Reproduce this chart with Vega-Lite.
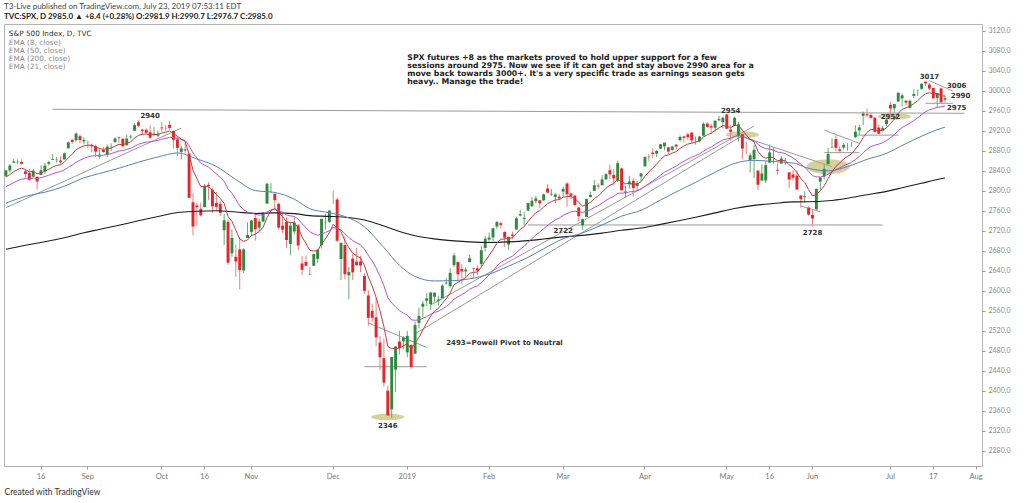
{
"$schema":"https://vega.github.io/schema/vega-lite/v6.json",
"autosize":"none",
"width":978,"height":442,
"padding":{"left":4,"top":24,"right":42,"bottom":37},
"background":"white",
"config":{"view":{"stroke":"#b4b4b4"},"font":"Lato"},
"title":{"text":"T3-Live published on TradingView.com, July 23, 2019 07:53:11 EDT","subtitle":"TVC:SPX, D  2985.0 ▲ +8.4 (+0.28%)  O:2981.9  H:2990.7  L:2976.7  C:2985.0","anchor":"start","frame":"group","offset":3,"font":"Lato","fontSize":8,"fontWeight":"normal","color":"#444","subtitleFont":"Lato","subtitleFontSize":8,"subtitleColor":"#222","subtitleFontWeight":"bold","subtitlePadding":2},
"datasets":{
"px":[
{"d":"2018-08-03","o":2829.6,"h":2840.4,"l":2827.4,"c":2840.4,"e8":2827.0,"e21":2808.0},
{"d":"2018-08-06","o":2840.3,"h":2853.3,"l":2836.0,"c":2850.4,"e8":2832.2,"e21":2811.9},
{"d":"2018-08-07","o":2855.9,"h":2863.4,"l":2855.9,"c":2858.5,"e8":2838.0,"e21":2816.1},
{"d":"2018-08-08","o":2856.8,"h":2862.4,"l":2853.1,"c":2857.7,"e8":2842.4,"e21":2819.9},
{"d":"2018-08-09","o":2857.2,"h":2862.5,"l":2852.0,"c":2853.6,"e8":2844.9,"e21":2823.0},
{"d":"2018-08-10","o":2838.9,"h":2842.2,"l":2825.8,"c":2833.3,"e8":2842.3,"e21":2823.9},
{"d":"2018-08-13","o":2835.5,"h":2843.4,"l":2819.9,"c":2821.9,"e8":2837.8,"e21":2823.7},
{"d":"2018-08-14","o":2827.9,"h":2843.1,"l":2826.6,"c":2840.0,"e8":2838.3,"e21":2825.2},
{"d":"2018-08-15","o":2827.9,"h":2828.0,"l":2802.5,"c":2818.4,"e8":2833.9,"e21":2824.6},
{"d":"2018-08-16","o":2831.4,"h":2850.5,"l":2831.4,"c":2840.7,"e8":2835.4,"e21":2826.1},
{"d":"2018-08-17","o":2838.3,"h":2855.6,"l":2833.7,"c":2850.1,"e8":2838.7,"e21":2828.3},
{"d":"2018-08-20","o":2853.9,"h":2859.8,"l":2850.6,"c":2857.1,"e8":2842.8,"e21":2830.9},
{"d":"2018-08-21","o":2861.5,"h":2873.2,"l":2861.3,"c":2863.0,"e8":2847.3,"e21":2833.8},
{"d":"2018-08-22","o":2861.0,"h":2867.5,"l":2856.1,"c":2861.8,"e8":2850.5,"e21":2836.3},
{"d":"2018-08-23","o":2860.3,"h":2868.8,"l":2854.0,"c":2857.0,"e8":2851.9,"e21":2838.2},
{"d":"2018-08-24","o":2862.4,"h":2876.2,"l":2862.4,"c":2874.7,"e8":2857.0,"e21":2841.5},
{"d":"2018-08-27","o":2884.7,"h":2898.3,"l":2884.7,"c":2896.7,"e8":2865.8,"e21":2846.5},
{"d":"2018-08-28","o":2901.5,"h":2903.8,"l":2893.5,"c":2897.5,"e8":2872.8,"e21":2851.1},
{"d":"2018-08-29","o":2900.6,"h":2916.5,"l":2898.4,"c":2914.0,"e8":2882.0,"e21":2856.8},
{"d":"2018-08-30","o":2908.9,"h":2912.5,"l":2895.2,"c":2901.1,"e8":2886.2,"e21":2860.8},
{"d":"2018-08-31","o":2898.4,"h":2906.3,"l":2892.7,"c":2901.5,"e8":2889.6,"e21":2864.5},
{"d":"2018-09-04","o":2897.0,"h":2900.2,"l":2885.1,"c":2896.7,"e8":2891.2,"e21":2867.4},
{"d":"2018-09-05","o":2891.6,"h":2894.2,"l":2876.9,"c":2888.6,"e8":2890.6,"e21":2869.3},
{"d":"2018-09-06","o":2888.6,"h":2892.1,"l":2867.3,"c":2878.1,"e8":2887.8,"e21":2870.1},
{"d":"2018-09-07","o":2868.3,"h":2883.8,"l":2864.1,"c":2871.7,"e8":2884.2,"e21":2870.2},
{"d":"2018-09-10","o":2881.4,"h":2886.9,"l":2875.9,"c":2877.1,"e8":2882.6,"e21":2870.8},
{"d":"2018-09-11","o":2871.6,"h":2892.5,"l":2866.8,"c":2887.9,"e8":2883.8,"e21":2872.4},
{"d":"2018-09-12","o":2888.3,"h":2894.7,"l":2879.2,"c":2888.9,"e8":2884.9,"e21":2873.9},
{"d":"2018-09-13","o":2896.9,"h":2906.8,"l":2896.4,"c":2904.2,"e8":2889.2,"e21":2876.7},
{"d":"2018-09-14","o":2906.4,"h":2908.3,"l":2895.8,"c":2905.0,"e8":2892.7,"e21":2879.3},
{"d":"2018-09-17","o":2903.8,"h":2904.7,"l":2886.2,"c":2888.8,"e8":2891.8,"e21":2880.2},
{"d":"2018-09-18","o":2890.7,"h":2911.2,"l":2890.4,"c":2904.3,"e8":2894.6,"e21":2882.4},
{"d":"2018-09-19","o":2906.6,"h":2912.4,"l":2903.8,"c":2908.0,"e8":2897.6,"e21":2884.7},
{"d":"2018-09-20","o":2919.7,"h":2934.8,"l":2919.7,"c":2930.8,"e8":2905.0,"e21":2888.9},
{"d":"2018-09-21","o":2936.8,"h":2940.9,"l":2927.1,"c":2929.7,"e8":2910.5,"e21":2892.6},
{"d":"2018-09-24","o":2921.8,"h":2923.8,"l":2912.6,"c":2919.4,"e8":2912.5,"e21":2895.0},
{"d":"2018-09-25","o":2921.8,"h":2924.0,"l":2913.7,"c":2915.6,"e8":2913.2,"e21":2896.9},
{"d":"2018-09-26","o":2917.0,"h":2931.2,"l":2903.3,"c":2906.0,"e8":2911.6,"e21":2897.7},
{"d":"2018-09-27","o":2911.7,"h":2927.2,"l":2909.3,"c":2914.0,"e8":2912.1,"e21":2899.2},
{"d":"2018-09-28","o":2910.0,"h":2920.5,"l":2907.5,"c":2914.0,"e8":2912.5,"e21":2900.5},
{"d":"2018-10-01","o":2926.3,"h":2937.1,"l":2917.9,"c":2924.6,"e8":2915.2,"e21":2902.7},
{"d":"2018-10-02","o":2923.8,"h":2931.4,"l":2919.4,"c":2923.4,"e8":2917.0,"e21":2904.6},
{"d":"2018-10-03","o":2931.7,"h":2939.9,"l":2921.4,"c":2925.5,"e8":2918.9,"e21":2906.5},
{"d":"2018-10-04","o":2919.4,"h":2919.8,"l":2883.9,"c":2901.6,"e8":2915.1,"e21":2906.1},
{"d":"2018-10-05","o":2902.5,"h":2909.6,"l":2869.3,"c":2885.6,"e8":2908.5,"e21":2904.2},
{"d":"2018-10-08","o":2877.5,"h":2889.5,"l":2862.1,"c":2884.4,"e8":2903.1,"e21":2902.4},
{"d":"2018-10-09","o":2882.5,"h":2894.8,"l":2874.3,"c":2880.3,"e8":2898.0,"e21":2900.4},
{"d":"2018-10-10","o":2873.9,"h":2874.0,"l":2784.9,"c":2785.7,"e8":2873.0,"e21":2890.0},
{"d":"2018-10-11","o":2776.9,"h":2795.1,"l":2710.5,"c":2728.4,"e8":2840.9,"e21":2875.3},
{"d":"2018-10-12","o":2770.5,"h":2775.8,"l":2729.4,"c":2767.1,"e8":2824.5,"e21":2865.5},
{"d":"2018-10-15","o":2763.8,"h":2776.0,"l":2749.0,"c":2750.8,"e8":2808.1,"e21":2855.1},
{"d":"2018-10-16","o":2767.1,"h":2813.5,"l":2766.9,"c":2809.9,"e8":2808.5,"e21":2851.0},
{"d":"2018-10-17","o":2811.7,"h":2816.9,"l":2781.8,"c":2809.2,"e8":2808.7,"e21":2847.2},
{"d":"2018-10-18","o":2802.0,"h":2806.0,"l":2755.2,"c":2768.8,"e8":2799.8,"e21":2840.1},
{"d":"2018-10-19","o":2775.7,"h":2797.8,"l":2760.3,"c":2767.8,"e8":2792.7,"e21":2833.5},
{"d":"2018-10-22","o":2773.9,"h":2778.9,"l":2749.2,"c":2755.9,"e8":2784.5,"e21":2826.4},
{"d":"2018-10-23","o":2721.0,"h":2753.6,"l":2691.4,"c":2740.7,"e8":2774.8,"e21":2818.6},
{"d":"2018-10-24","o":2737.9,"h":2742.6,"l":2651.9,"c":2656.1,"e8":2748.4,"e21":2803.8},
{"d":"2018-10-25","o":2674.9,"h":2722.7,"l":2667.8,"c":2705.6,"e8":2738.9,"e21":2794.9},
{"d":"2018-10-26","o":2667.9,"h":2692.4,"l":2628.2,"c":2658.7,"e8":2721.1,"e21":2782.5},
{"d":"2018-10-29","o":2682.7,"h":2706.9,"l":2603.5,"c":2641.3,"e8":2703.4,"e21":2769.7},
{"d":"2018-10-30","o":2640.7,"h":2685.4,"l":2635.3,"c":2682.6,"e8":2698.8,"e21":2761.8},
{"d":"2018-10-31","o":2705.6,"h":2736.7,"l":2705.6,"c":2711.7,"e8":2701.7,"e21":2757.2},
{"d":"2018-11-01","o":2717.6,"h":2741.7,"l":2708.9,"c":2740.4,"e8":2710.3,"e21":2755.7},
{"d":"2018-11-02","o":2745.5,"h":2756.6,"l":2700.4,"c":2723.1,"e8":2713.1,"e21":2752.7},
{"d":"2018-11-05","o":2726.4,"h":2744.3,"l":2717.9,"c":2738.3,"e8":2718.7,"e21":2751.4},
{"d":"2018-11-06","o":2738.4,"h":2756.8,"l":2737.1,"c":2755.5,"e8":2726.9,"e21":2751.8},
{"d":"2018-11-07","o":2774.1,"h":2815.2,"l":2774.1,"c":2813.9,"e8":2746.2,"e21":2757.4},
{"d":"2018-11-08","o":2806.4,"h":2814.8,"l":2795.0,"c":2806.8,"e8":2759.7,"e21":2761.9},
{"d":"2018-11-09","o":2794.1,"h":2794.1,"l":2764.2,"c":2781.0,"e8":2764.4,"e21":2763.6},
{"d":"2018-11-12","o":2773.9,"h":2776.0,"l":2722.0,"c":2726.2,"e8":2755.9,"e21":2760.2},
{"d":"2018-11-13","o":2730.1,"h":2754.6,"l":2715.0,"c":2722.2,"e8":2748.4,"e21":2756.7},
{"d":"2018-11-14","o":2737.9,"h":2746.8,"l":2685.8,"c":2701.6,"e8":2738.0,"e21":2751.7},
{"d":"2018-11-15","o":2693.5,"h":2735.4,"l":2670.8,"c":2730.2,"e8":2736.3,"e21":2749.7},
{"d":"2018-11-16","o":2718.5,"h":2746.8,"l":2712.2,"c":2736.3,"e8":2736.3,"e21":2748.5},
{"d":"2018-11-19","o":2730.7,"h":2733.2,"l":2681.1,"c":2690.7,"e8":2726.2,"e21":2743.2},
{"d":"2018-11-20","o":2654.6,"h":2669.4,"l":2631.5,"c":2641.9,"e8":2707.5,"e21":2734.0},
{"d":"2018-11-21","o":2657.7,"h":2670.7,"l":2649.8,"c":2649.9,"e8":2694.7,"e21":2726.4},
{"d":"2018-11-23","o":2633.4,"h":2647.6,"l":2631.1,"c":2632.6,"e8":2680.9,"e21":2717.9},
{"d":"2018-11-26","o":2650.0,"h":2674.4,"l":2650.0,"c":2673.5,"e8":2679.3,"e21":2713.9},
{"d":"2018-11-27","o":2663.8,"h":2682.5,"l":2655.9,"c":2682.2,"e8":2679.9,"e21":2711.0},
{"d":"2018-11-28","o":2691.5,"h":2744.0,"l":2684.4,"c":2743.8,"e8":2694.1,"e21":2714.0},
{"d":"2018-11-29","o":2737.0,"h":2753.8,"l":2722.9,"c":2737.8,"e8":2703.8,"e21":2716.2},
{"d":"2018-11-30","o":2737.8,"h":2760.9,"l":2736.0,"c":2760.2,"e8":2716.3,"e21":2720.2},
{"d":"2018-12-03","o":2790.5,"h":2800.2,"l":2773.4,"c":2790.4,"e8":2732.8,"e21":2726.6},
{"d":"2018-12-04","o":2782.4,"h":2785.9,"l":2697.2,"c":2700.1,"e8":2725.5,"e21":2724.2},
{"d":"2018-12-06","o":2663.5,"h":2696.1,"l":2621.5,"c":2696.0,"e8":2718.9,"e21":2721.6},
{"d":"2018-12-07","o":2691.3,"h":2708.5,"l":2623.1,"c":2633.1,"e8":2699.8,"e21":2713.6},
{"d":"2018-12-10","o":2630.9,"h":2647.5,"l":2583.2,"c":2637.7,"e8":2686.0,"e21":2706.7},
{"d":"2018-12-11","o":2664.4,"h":2674.4,"l":2621.3,"c":2636.8,"e8":2675.1,"e21":2700.3},
{"d":"2018-12-12","o":2658.2,"h":2685.4,"l":2650.3,"c":2651.1,"e8":2669.8,"e21":2695.8},
{"d":"2018-12-13","o":2658.7,"h":2670.2,"l":2637.3,"c":2650.5,"e8":2665.5,"e21":2691.7},
{"d":"2018-12-14","o":2629.7,"h":2635.1,"l":2593.8,"c":2600.0,"e8":2650.9,"e21":2683.4},
{"d":"2018-12-17","o":2590.8,"h":2601.1,"l":2530.5,"c":2545.9,"e8":2627.6,"e21":2670.9},
{"d":"2018-12-18","o":2559.9,"h":2574.0,"l":2538.1,"c":2546.2,"e8":2609.5,"e21":2659.6},
{"d":"2018-12-19","o":2547.1,"h":2585.3,"l":2489.0,"c":2507.0,"e8":2586.7,"e21":2645.7},
{"d":"2018-12-20","o":2496.8,"h":2509.6,"l":2441.2,"c":2467.4,"e8":2560.2,"e21":2629.5},
{"d":"2018-12-21","o":2465.4,"h":2504.4,"l":2408.6,"c":2416.6,"e8":2528.3,"e21":2610.1},
{"d":"2018-12-24","o":2400.6,"h":2410.3,"l":2351.1,"c":2351.1,"e8":2488.9,"e21":2586.6},
{"d":"2018-12-26","o":2363.1,"h":2467.8,"l":2346.6,"c":2467.7,"e8":2484.2,"e21":2575.8},
{"d":"2018-12-27","o":2442.5,"h":2489.1,"l":2397.9,"c":2488.8,"e8":2485.2,"e21":2567.9},
{"d":"2018-12-28","o":2498.8,"h":2520.3,"l":2472.9,"c":2485.7,"e8":2485.3,"e21":2560.4},
{"d":"2018-12-31","o":2498.9,"h":2509.2,"l":2482.8,"c":2506.9,"e8":2490.1,"e21":2555.5},
{"d":"2019-01-02","o":2477.0,"h":2519.5,"l":2467.5,"c":2510.0,"e8":2494.5,"e21":2551.4},
{"d":"2019-01-03","o":2491.9,"h":2493.1,"l":2444.0,"c":2447.9,"e8":2484.1,"e21":2542.0},
{"d":"2019-01-04","o":2474.3,"h":2538.1,"l":2474.3,"c":2531.9,"e8":2494.7,"e21":2541.1},
{"d":"2019-01-07","o":2535.6,"h":2566.2,"l":2524.6,"c":2549.7,"e8":2506.9,"e21":2541.9},
{"d":"2019-01-08","o":2568.1,"h":2579.8,"l":2547.6,"c":2574.4,"e8":2521.9,"e21":2544.9},
{"d":"2019-01-09","o":2580.0,"h":2595.3,"l":2568.9,"c":2585.0,"e8":2535.9,"e21":2548.5},
{"d":"2019-01-10","o":2573.5,"h":2597.8,"l":2562.0,"c":2596.6,"e8":2549.4,"e21":2552.9},
{"d":"2019-01-11","o":2588.1,"h":2596.3,"l":2577.4,"c":2596.3,"e8":2559.8,"e21":2556.8},
{"d":"2019-01-14","o":2580.3,"h":2589.3,"l":2570.4,"c":2582.6,"e8":2564.9,"e21":2559.1},
{"d":"2019-01-15","o":2585.1,"h":2613.1,"l":2585.1,"c":2610.3,"e8":2575.0,"e21":2563.8},
{"d":"2019-01-16","o":2614.8,"h":2625.8,"l":2612.7,"c":2616.1,"e8":2584.1,"e21":2568.6},
{"d":"2019-01-17","o":2609.3,"h":2645.1,"l":2606.4,"c":2636.0,"e8":2595.6,"e21":2574.7},
{"d":"2019-01-18","o":2651.3,"h":2675.5,"l":2647.6,"c":2670.7,"e8":2612.3,"e21":2583.4},
{"d":"2019-01-22","o":2657.9,"h":2657.9,"l":2617.3,"c":2632.9,"e8":2616.9,"e21":2587.9},
{"d":"2019-01-23","o":2643.5,"h":2653.2,"l":2612.9,"c":2638.7,"e8":2621.7,"e21":2592.5},
{"d":"2019-01-24","o":2638.8,"h":2647.2,"l":2627.0,"c":2642.3,"e8":2626.3,"e21":2597.0},
{"d":"2019-01-25","o":2657.4,"h":2672.4,"l":2657.3,"c":2664.8,"e8":2634.9,"e21":2603.2},
{"d":"2019-01-28","o":2645.0,"h":2645.0,"l":2624.1,"c":2643.9,"e8":2636.9,"e21":2606.9},
{"d":"2019-01-29","o":2644.9,"h":2650.9,"l":2631.1,"c":2640.0,"e8":2637.6,"e21":2609.9},
{"d":"2019-01-30","o":2653.6,"h":2690.4,"l":2648.3,"c":2681.1,"e8":2647.3,"e21":2616.4},
{"d":"2019-01-31","o":2685.5,"h":2709.0,"l":2678.7,"c":2704.1,"e8":2659.9,"e21":2624.4},
{"d":"2019-02-01","o":2702.3,"h":2716.7,"l":2696.9,"c":2706.5,"e8":2670.3,"e21":2631.9},
{"d":"2019-02-04","o":2706.5,"h":2725.0,"l":2698.8,"c":2724.9,"e8":2682.4,"e21":2640.4},
{"d":"2019-02-05","o":2728.3,"h":2739.0,"l":2724.0,"c":2737.7,"e8":2694.7,"e21":2649.2},
{"d":"2019-02-06","o":2735.1,"h":2738.1,"l":2724.2,"c":2731.6,"e8":2702.9,"e21":2656.7},
{"d":"2019-02-07","o":2717.5,"h":2719.3,"l":2687.3,"c":2706.1,"e8":2703.6,"e21":2661.2},
{"d":"2019-02-08","o":2692.4,"h":2708.1,"l":2681.8,"c":2707.9,"e8":2704.6,"e21":2665.4},
{"d":"2019-02-11","o":2712.4,"h":2718.1,"l":2703.8,"c":2709.8,"e8":2705.8,"e21":2669.4},
{"d":"2019-02-12","o":2722.6,"h":2748.2,"l":2722.6,"c":2744.7,"e8":2714.4,"e21":2676.2},
{"d":"2019-02-13","o":2750.3,"h":2761.9,"l":2748.6,"c":2753.0,"e8":2723.0,"e21":2683.2},
{"d":"2019-02-14","o":2743.5,"h":2757.9,"l":2731.2,"c":2745.7,"e8":2728.0,"e21":2688.9},
{"d":"2019-02-15","o":2760.2,"h":2775.7,"l":2760.2,"c":2775.6,"e8":2738.6,"e21":2696.8},
{"d":"2019-02-19","o":2769.3,"h":2787.3,"l":2767.3,"c":2779.8,"e8":2747.8,"e21":2704.3},
{"d":"2019-02-20","o":2779.1,"h":2789.9,"l":2774.1,"c":2784.7,"e8":2756.0,"e21":2711.6},
{"d":"2019-02-21","o":2780.7,"h":2781.5,"l":2764.6,"c":2774.9,"e8":2760.2,"e21":2717.4},
{"d":"2019-02-22","o":2780.7,"h":2794.2,"l":2779.1,"c":2792.7,"e8":2767.4,"e21":2724.2},
{"d":"2019-02-25","o":2804.4,"h":2813.5,"l":2795.0,"c":2796.1,"e8":2773.8,"e21":2730.7},
{"d":"2019-02-26","o":2792.4,"h":2803.1,"l":2789.5,"c":2793.9,"e8":2778.3,"e21":2736.4},
{"d":"2019-02-27","o":2787.5,"h":2795.8,"l":2775.1,"c":2792.4,"e8":2781.4,"e21":2741.5},
{"d":"2019-02-28","o":2788.1,"h":2793.7,"l":2782.5,"c":2784.5,"e8":2782.1,"e21":2745.4},
{"d":"2019-03-01","o":2798.2,"h":2808.0,"l":2787.4,"c":2803.7,"e8":2786.9,"e21":2750.7},
{"d":"2019-03-04","o":2814.4,"h":2816.9,"l":2767.7,"c":2792.8,"e8":2788.2,"e21":2754.5},
{"d":"2019-03-05","o":2794.4,"h":2796.4,"l":2782.5,"c":2789.7,"e8":2788.5,"e21":2757.7},
{"d":"2019-03-06","o":2790.3,"h":2790.3,"l":2768.7,"c":2771.5,"e8":2784.7,"e21":2759.0},
{"d":"2019-03-07","o":2766.5,"h":2767.3,"l":2739.1,"c":2748.9,"e8":2776.7,"e21":2758.1},
{"d":"2019-03-08","o":2730.8,"h":2744.1,"l":2722.3,"c":2743.1,"e8":2769.2,"e21":2756.7},
{"d":"2019-03-11","o":2747.6,"h":2784.0,"l":2747.6,"c":2783.3,"e8":2772.3,"e21":2759.1},
{"d":"2019-03-12","o":2787.3,"h":2798.3,"l":2786.7,"c":2791.5,"e8":2776.6,"e21":2762.0},
{"d":"2019-03-13","o":2799.8,"h":2821.2,"l":2799.8,"c":2810.9,"e8":2784.2,"e21":2766.4},
{"d":"2019-03-14","o":2810.4,"h":2815.0,"l":2803.5,"c":2808.5,"e8":2789.6,"e21":2770.2},
{"d":"2019-03-15","o":2810.8,"h":2830.7,"l":2810.8,"c":2822.5,"e8":2796.9,"e21":2775.0},
{"d":"2019-03-18","o":2822.6,"h":2835.4,"l":2822.0,"c":2832.9,"e8":2804.9,"e21":2780.3},
{"d":"2019-03-19","o":2840.8,"h":2852.4,"l":2823.3,"c":2832.6,"e8":2811.1,"e21":2785.1},
{"d":"2019-03-20","o":2831.3,"h":2843.5,"l":2812.4,"c":2824.2,"e8":2814.0,"e21":2788.7},
{"d":"2019-03-21","o":2819.7,"h":2860.3,"l":2817.4,"c":2854.9,"e8":2823.1,"e21":2794.7},
{"d":"2019-03-22","o":2844.5,"h":2846.2,"l":2800.5,"c":2800.7,"e8":2818.1,"e21":2795.2},
{"d":"2019-03-25","o":2796.0,"h":2809.8,"l":2785.0,"c":2798.4,"e8":2813.7,"e21":2795.5},
{"d":"2019-03-26","o":2812.7,"h":2829.9,"l":2804.0,"c":2818.5,"e8":2814.8,"e21":2797.6},
{"d":"2019-03-27","o":2819.7,"h":2825.6,"l":2787.7,"c":2805.4,"e8":2812.7,"e21":2798.3},
{"d":"2019-03-28","o":2809.4,"h":2819.7,"l":2798.8,"c":2815.4,"e8":2813.3,"e21":2799.9},
{"d":"2019-03-29","o":2828.3,"h":2836.0,"l":2819.2,"c":2834.4,"e8":2818.0,"e21":2803.0},
{"d":"2019-04-01","o":2848.6,"h":2869.4,"l":2848.6,"c":2867.2,"e8":2828.9,"e21":2808.8},
{"d":"2019-04-02","o":2868.2,"h":2872.9,"l":2858.8,"c":2867.2,"e8":2837.4,"e21":2814.1},
{"d":"2019-04-03","o":2876.1,"h":2885.3,"l":2865.2,"c":2873.4,"e8":2845.4,"e21":2819.5},
{"d":"2019-04-04","o":2874.0,"h":2881.3,"l":2867.1,"c":2879.4,"e8":2853.0,"e21":2824.9},
{"d":"2019-04-05","o":2884.2,"h":2893.2,"l":2883.0,"c":2892.7,"e8":2861.8,"e21":2831.1},
{"d":"2019-04-08","o":2888.5,"h":2896.0,"l":2880.8,"c":2895.8,"e8":2869.4,"e21":2837.0},
{"d":"2019-04-09","o":2886.6,"h":2886.9,"l":2873.3,"c":2878.2,"e8":2871.4,"e21":2840.7},
{"d":"2019-04-10","o":2881.4,"h":2889.7,"l":2879.1,"c":2888.2,"e8":2875.1,"e21":2845.0},
{"d":"2019-04-11","o":2891.9,"h":2893.4,"l":2882.0,"c":2888.3,"e8":2878.0,"e21":2848.9},
{"d":"2019-04-12","o":2900.9,"h":2910.5,"l":2898.4,"c":2907.4,"e8":2884.5,"e21":2854.2},
{"d":"2019-04-15","o":2908.3,"h":2909.6,"l":2896.5,"c":2905.6,"e8":2889.2,"e21":2858.9},
{"d":"2019-04-16","o":2912.3,"h":2916.1,"l":2900.7,"c":2907.1,"e8":2893.2,"e21":2863.3},
{"d":"2019-04-17","o":2916.0,"h":2918.0,"l":2895.4,"c":2900.5,"e8":2894.8,"e21":2866.7},
{"d":"2019-04-18","o":2904.8,"h":2908.4,"l":2891.9,"c":2905.0,"e8":2897.1,"e21":2870.2},
{"d":"2019-04-22","o":2898.8,"h":2909.5,"l":2896.4,"c":2908.0,"e8":2899.5,"e21":2873.6},
{"d":"2019-04-23","o":2910.0,"h":2936.3,"l":2908.5,"c":2933.7,"e8":2907.1,"e21":2879.1},
{"d":"2019-04-24","o":2934.0,"h":2936.8,"l":2926.1,"c":2927.3,"e8":2911.6,"e21":2883.5},
{"d":"2019-04-25","o":2929.0,"h":2933.1,"l":2912.8,"c":2926.2,"e8":2914.8,"e21":2887.4},
{"d":"2019-04-26","o":2925.8,"h":2939.9,"l":2917.6,"c":2939.9,"e8":2920.4,"e21":2892.2},
{"d":"2019-04-29","o":2940.6,"h":2949.5,"l":2939.4,"c":2943.0,"e8":2925.4,"e21":2896.8},
{"d":"2019-04-30","o":2937.1,"h":2948.2,"l":2924.1,"c":2945.8,"e8":2929.9,"e21":2901.3},
{"d":"2019-05-01","o":2952.3,"h":2954.1,"l":2923.4,"c":2923.7,"e8":2928.5,"e21":2903.3},
{"d":"2019-05-02","o":2922.2,"h":2931.7,"l":2900.5,"c":2917.5,"e8":2926.1,"e21":2904.6},
{"d":"2019-05-03","o":2929.2,"h":2947.9,"l":2929.2,"c":2945.6,"e8":2930.4,"e21":2908.3},
{"d":"2019-05-06","o":2908.9,"h":2937.3,"l":2898.2,"c":2932.5,"e8":2930.9,"e21":2910.5},
{"d":"2019-05-07","o":2913.0,"h":2913.0,"l":2862.6,"c":2884.1,"e8":2920.5,"e21":2908.1},
{"d":"2019-05-08","o":2879.6,"h":2898.0,"l":2873.3,"c":2879.4,"e8":2911.4,"e21":2905.5},
{"d":"2019-05-09","o":2859.8,"h":2875.0,"l":2836.4,"c":2870.7,"e8":2902.4,"e21":2902.3},
{"d":"2019-05-10","o":2863.1,"h":2891.3,"l":2825.4,"c":2881.4,"e8":2897.7,"e21":2900.4},
{"d":"2019-05-13","o":2840.2,"h":2840.2,"l":2801.4,"c":2811.9,"e8":2878.6,"e21":2892.4},
{"d":"2019-05-14","o":2820.1,"h":2852.5,"l":2820.1,"c":2834.4,"e8":2868.8,"e21":2887.1},
{"d":"2019-05-15","o":2820.4,"h":2858.7,"l":2815.1,"c":2851.0,"e8":2864.8,"e21":2883.8},
{"d":"2019-05-16","o":2855.8,"h":2892.2,"l":2855.8,"c":2876.3,"e8":2867.4,"e21":2883.1},
{"d":"2019-05-17","o":2858.6,"h":2885.5,"l":2854.2,"c":2859.5,"e8":2865.6,"e21":2881.0},
{"d":"2019-05-20","o":2841.9,"h":2853.9,"l":2831.3,"c":2840.2,"e8":2860.0,"e21":2877.3},
{"d":"2019-05-21","o":2854.0,"h":2868.9,"l":2854.0,"c":2864.4,"e8":2861.0,"e21":2876.1},
{"d":"2019-05-22","o":2856.1,"h":2865.5,"l":2851.1,"c":2856.3,"e8":2860.0,"e21":2874.3},
{"d":"2019-05-23","o":2836.7,"h":2836.7,"l":2805.5,"c":2822.2,"e8":2851.6,"e21":2869.6},
{"d":"2019-05-24","o":2832.4,"h":2841.4,"l":2820.2,"c":2826.1,"e8":2845.9,"e21":2865.6},
{"d":"2019-05-28","o":2830.0,"h":2840.5,"l":2801.6,"c":2802.4,"e8":2836.2,"e21":2859.9},
{"d":"2019-05-29","o":2790.3,"h":2792.0,"l":2766.1,"c":2783.0,"e8":2824.4,"e21":2852.9},
{"d":"2019-05-30","o":2786.9,"h":2799.0,"l":2776.7,"c":2788.9,"e8":2816.5,"e21":2847.1},
{"d":"2019-05-31","o":2766.2,"h":2769.0,"l":2750.5,"c":2752.1,"e8":2802.2,"e21":2838.5},
{"d":"2019-06-03","o":2751.5,"h":2763.1,"l":2728.8,"c":2744.5,"e8":2789.4,"e21":2830.0},
{"d":"2019-06-04","o":2762.6,"h":2804.5,"l":2762.6,"c":2803.3,"e8":2792.5,"e21":2827.6},
{"d":"2019-06-05","o":2818.1,"h":2827.3,"l":2800.9,"c":2826.2,"e8":2800.0,"e21":2827.5},
{"d":"2019-06-06","o":2828.5,"h":2852.1,"l":2822.5,"c":2843.5,"e8":2809.7,"e21":2829.0},
{"d":"2019-06-07","o":2852.9,"h":2885.7,"l":2852.9,"c":2873.3,"e8":2823.8,"e21":2833.0},
{"d":"2019-06-10","o":2885.8,"h":2904.8,"l":2885.5,"c":2886.7,"e8":2837.8,"e21":2837.9},
{"d":"2019-06-11","o":2903.3,"h":2910.6,"l":2878.5,"c":2885.7,"e8":2848.4,"e21":2842.2},
{"d":"2019-06-12","o":2882.7,"h":2888.6,"l":2874.7,"c":2879.8,"e8":2855.4,"e21":2845.6},
{"d":"2019-06-13","o":2886.2,"h":2895.2,"l":2882.0,"c":2891.6,"e8":2863.4,"e21":2849.8},
{"d":"2019-06-14","o":2886.8,"h":2894.5,"l":2879.6,"c":2887.0,"e8":2868.6,"e21":2853.2},
{"d":"2019-06-17","o":2889.8,"h":2897.3,"l":2887.3,"c":2889.7,"e8":2873.3,"e21":2856.5},
{"d":"2019-06-18","o":2906.7,"h":2930.8,"l":2905.4,"c":2917.8,"e8":2883.2,"e21":2862.1},
{"d":"2019-06-19","o":2920.6,"h":2931.7,"l":2911.4,"c":2926.5,"e8":2892.8,"e21":2868.0},
{"d":"2019-06-20","o":2949.6,"h":2958.1,"l":2931.5,"c":2954.2,"e8":2906.4,"e21":2875.8},
{"d":"2019-06-21","o":2952.7,"h":2964.2,"l":2946.9,"c":2950.5,"e8":2916.2,"e21":2882.6},
{"d":"2019-06-24","o":2951.4,"h":2954.9,"l":2944.1,"c":2945.4,"e8":2922.7,"e21":2888.3},
{"d":"2019-06-25","o":2945.8,"h":2946.5,"l":2916.0,"c":2917.4,"e8":2921.5,"e21":2890.9},
{"d":"2019-06-26","o":2926.1,"h":2932.6,"l":2913.0,"c":2913.8,"e8":2919.8,"e21":2893.0},
{"d":"2019-06-27","o":2919.7,"h":2929.3,"l":2918.6,"c":2924.9,"e8":2920.9,"e21":2895.9},
{"d":"2019-06-28","o":2932.9,"h":2944.0,"l":2929.1,"c":2941.8,"e8":2925.5,"e21":2900.1},
{"d":"2019-07-01","o":2971.4,"h":2977.9,"l":2952.2,"c":2964.3,"e8":2934.1,"e21":2905.9},
{"d":"2019-07-02","o":2964.7,"h":2973.2,"l":2955.9,"c":2973.0,"e8":2942.7,"e21":2912.0},
{"d":"2019-07-03","o":2978.1,"h":2995.8,"l":2978.0,"c":2995.8,"e8":2954.5,"e21":2919.6},
{"d":"2019-07-05","o":2984.3,"h":2994.0,"l":2968.0,"c":2990.4,"e8":2962.5,"e21":2926.0},
{"d":"2019-07-08","o":2979.8,"h":2980.8,"l":2970.1,"c":2976.0,"e8":2965.5,"e21":2930.5},
{"d":"2019-07-09","o":2965.5,"h":2981.9,"l":2963.4,"c":2979.6,"e8":2968.6,"e21":2935.0},
{"d":"2019-07-10","o":2989.3,"h":3003.0,"l":2984.6,"c":2993.1,"e8":2974.0,"e21":2940.3},
{"d":"2019-07-11","o":2999.6,"h":3002.3,"l":2988.8,"c":2999.9,"e8":2979.8,"e21":2945.7},
{"d":"2019-07-12","o":3003.4,"h":3013.9,"l":3001.9,"c":3013.8,"e8":2987.4,"e21":2951.9},
{"d":"2019-07-15","o":3017.8,"h":3017.8,"l":3008.8,"c":3014.3,"e8":2993.4,"e21":2957.6},
{"d":"2019-07-16","o":3012.1,"h":3015.0,"l":3001.2,"c":3004.0,"e8":2995.8,"e21":2961.8},
{"d":"2019-07-17","o":3005.1,"h":3005.3,"l":2984.3,"c":2984.4,"e8":2993.3,"e21":2963.9},
{"d":"2019-07-18","o":2985.1,"h":2995.1,"l":2968.0,"c":2995.1,"e8":2993.7,"e21":2966.7},
{"d":"2019-07-19","o":3004.3,"h":3006.5,"l":2975.9,"c":2976.6,"e8":2989.9,"e21":2967.6},
{"d":"2019-07-22","o":2981.9,"h":2990.7,"l":2976.7,"c":2985.0,"e8":2988.8,"e21":2969.2},
{"d":"2019-07-23"},{"d":"2019-07-24"},{"d":"2019-07-25"},{"d":"2019-07-26"},{"d":"2019-07-29"},{"d":"2019-07-30"},{"d":"2019-07-31"},{"d":"2019-08-01"},{"d":"2019-08-02"}
],
"ema":[
{"d":"2018-08-03","e50":2775.0,"e200":2683.0},{"d":"2018-08-10","e50":2788.8,"e200":2691.0},{"d":"2018-08-17","e50":2797.0,"e200":2698.0},{"d":"2018-08-24","e50":2808.9,"e200":2706.0},{"d":"2018-08-31","e50":2825.7,"e200":2716.0},{"d":"2018-09-07","e50":2834.3,"e200":2722.6},{"d":"2018-09-14","e50":2844.9,"e200":2731.0},{"d":"2018-09-21","e50":2857.0,"e200":2739.8},{"d":"2018-09-28","e50":2867.3,"e200":2748.3},{"d":"2018-10-05","e50":2875.4,"e200":2756.3},{"d":"2018-10-12","e50":2863.4,"e200":2758.9},{"d":"2018-10-19","e50":2848.5,"e200":2760.0},{"d":"2018-10-26","e50":2822.3,"e200":2757.3},{"d":"2018-11-02","e50":2800.2,"e200":2754.5},{"d":"2018-11-09","e50":2796.4,"e200":2755.7},{"d":"2018-11-16","e50":2783.1,"e200":2754.1},{"d":"2018-11-23","e50":2764.0,"e200":2750.2},{"d":"2018-11-30","e50":2755.9,"e200":2748.7},{"d":"2018-12-07","e50":2748.4,"e200":2747.0},{"d":"2018-12-14","e50":2727.9,"e200":2741.5},{"d":"2018-12-21","e50":2686.1,"e200":2729.6},{"d":"2018-12-28","e50":2651.0,"e200":2718.6},{"d":"2019-01-04","e50":2628.5,"e200":2710.0},{"d":"2019-01-11","e50":2619.7,"e200":2703.7},{"d":"2019-01-18","e50":2620.3,"e200":2699.8},{"d":"2019-01-25","e50":2624.0,"e200":2697.7},{"d":"2019-02-01","e50":2633.2,"e200":2696.6},{"d":"2019-02-08","e50":2649.3,"e200":2697.8},{"d":"2019-02-15","e50":2666.8,"e200":2700.2},{"d":"2019-02-22","e50":2684.0,"e200":2703.4},{"d":"2019-03-01","e50":2703.9,"e200":2707.8},{"d":"2019-03-08","e50":2715.7,"e200":2710.8},{"d":"2019-03-15","e50":2731.5,"e200":2715.3},{"d":"2019-03-22","e50":2749.1,"e200":2720.9},{"d":"2019-03-29","e50":2760.8,"e200":2725.4},{"d":"2019-04-05","e50":2781.6,"e200":2732.7},{"d":"2019-04-12","e50":2801.4,"e200":2740.4},{"d":"2019-04-18","e50":2816.7,"e200":2746.9},{"d":"2019-04-26","e50":2836.7,"e200":2755.7},{"d":"2019-05-03","e50":2854.5,"e200":2764.5},{"d":"2019-05-10","e50":2860.7,"e200":2770.6},{"d":"2019-05-17","e50":2858.2,"e200":2774.3},{"d":"2019-05-24","e50":2855.3,"e200":2777.6},{"d":"2019-05-31","e50":2844.5,"e200":2777.8},{"d":"2019-06-07","e50":2839.7,"e200":2779.8},{"d":"2019-06-14","e50":2848.1,"e200":2785.0},{"d":"2019-06-21","e50":2862.6,"e200":2792.0},{"d":"2019-06-28","e50":2874.6,"e200":2798.7},{"d":"2019-07-05","e50":2890.3,"e200":2805.8},{"d":"2019-07-12","e50":2908.9,"e200":2814.9},{"d":"2019-07-19","e50":2924.5,"e200":2823.7},{"d":"2019-07-22","e50":2926.9,"e200":2825.3}
],
"seg":[
{"s":1,"d":"2018-08-21","v":2962.6},{"s":1,"d":"2019-07-29","v":2954.6},
{"s":2,"d":"2018-08-03","v":2766},{"s":2,"d":"2018-10-08","v":2925},
{"s":3,"d":"2018-12-17","v":2535.7},{"s":3,"d":"2019-01-09","v":2487},
{"s":4,"d":"2018-12-14","v":2448.4},{"s":4,"d":"2019-01-09","v":2448.4},
{"s":5,"d":"2019-01-10","v":2571.7},{"s":5,"d":"2019-05-10","v":2929},
{"s":6,"d":"2019-01-04","v":2514},{"s":6,"d":"2019-05-08","v":2915},
{"s":7,"d":"2019-02-15","v":2731.5},{"s":7,"d":"2019-06-27","v":2731.5},
{"s":8,"d":"2019-05-07","v":2907.9},{"s":8,"d":"2019-06-10","v":2848},
{"s":9,"d":"2019-05-29","v":2769.4},{"s":9,"d":"2019-06-05","v":2758},
{"s":10,"d":"2019-06-06","v":2876},{"s":10,"d":"2019-06-19","v":2876},
{"s":11,"d":"2019-06-18","v":2911},{"s":11,"d":"2019-07-03","v":2911},
{"s":12,"d":"2019-06-06","v":2921},{"s":12,"d":"2019-06-19","v":2894.7},
{"s":13,"d":"2019-07-15","v":2974.6},{"s":13,"d":"2019-07-24","v":2974.6},
{"s":14,"d":"2019-07-16","v":3019.7},{"s":14,"d":"2019-07-24","v":2999}
],
"ell":[{"d":"2018-12-24","v":2348},{"d":"2019-05-07","v":2912},{"d":"2019-07-02","v":2948}],
"ellbig":[{"d":"2019-06-07","v":2848}],
"notes":[
{"d":"2018-09-26","v":2949,"t":"2940"},{"d":"2019-05-02","v":2960,"t":"2954"},{"d":"2019-03-01","v":2719,"t":"2722"},{"d":"2019-06-03","v":2715,"t":"2728"},{"d":"2018-12-24","v":2330,"t":"2346"},{"d":"2019-07-01","v":2948,"t":"2952"},{"d":"2019-07-16","v":3028,"t":"3017"},{"d":"2019-07-25","v":3010,"t":"3006"},{"d":"2019-07-26","v":2990,"t":"2990"},{"d":"2019-07-25","v":2966,"t":"2975"}
],
"powell":[{"d":"2019-01-16","v":2495,"t":"2493=Powell Pivot to Neutral"}],
"para":[{"d":"2019-01-02","v":3074,"t":"SPX futures +8 as the markets proved to hold upper support for a few\nsessions around 2975. Now we see if it can get and stay above 2990 area for a\nmove back towards 3000+.  It's a very specific trade as earnings season gets\nheavy..  Manage the trade!"}],
"leghead":[{"d":"2018-08-06","v":3113,"t":"S&P 500 Index, D, TVC"}],
"legitems":[{"d":"2018-08-06","v":3104,"t":"EMA (8, close)\nEMA (50, close)\nEMA (200, close)\nEMA (21, close)"}]
},
"encoding":{
"x":{"field":"d","type":"ordinal","title":"Created with TradingView",
"scale":{"type":"band","paddingInner":0.25,"paddingOuter":0.125},
"axis":{"values":["2018-08-16","2018-09-04","2018-10-01","2018-10-16","2018-11-01","2018-12-03","2019-01-02","2019-02-01","2019-03-01","2019-04-01","2019-05-01","2019-05-16","2019-06-03","2019-07-01","2019-07-17","2019-08-01"],
"labelExpr":"datum.value=='2019-01-02' ? '2019' : (indexof(['2018-08-16','2018-10-16','2019-05-16','2019-07-17'], datum.value) >= 0 ? utcFormat(toDate(datum.value), '%d') : utcFormat(toDate(datum.value), '%b'))",
"labelAngle":0,"labelFont":"Lato","labelFontSize":7.5,"labelColor":"#777","tickColor":"#999","tickSize":3,"labelPadding":3,"domain":false,"grid":false,"labelOverlap":false,
"titleAnchor":"start","titleAlign":"left","titleBaseline":"top","titlePadding":8,"titleFont":"Lato","titleFontSize":8.5,"titleFontWeight":"normal","titleColor":"#333"}}
},
"layer":[
{"data":{"name":"px"},"mark":{"type":"point","opacity":0},"encoding":{}},
{"data":{"name":"seg"},"mark":{"type":"line","color":"#9a9a9a","strokeWidth":1},
 "encoding":{"x":{"field":"d","type":"ordinal","bandPosition":0.5},"y":{"field":"v","type":"quantitative","title":null},"detail":{"field":"s"}}},
{"data":{"name":"ell"},"mark":{"type":"point","shape":"M-1,0A1,0.2 0 1,0 1,0A1,0.2 0 1,0 -1,0Z","filled":true,"color":"#b7b35c","opacity":0.6,"strokeWidth":0},
 "encoding":{"x":{"field":"d","type":"ordinal","bandPosition":0.5},"y":{"field":"v","type":"quantitative","title":null},"size":{"value":1100}}},
{"data":{"name":"ellbig"},"mark":{"type":"point","shape":"M-1,0A1,0.34 0 1,0 1,0A1,0.34 0 1,0 -1,0Z","filled":true,"color":"#b7b35c","opacity":0.6,"strokeWidth":0},
 "encoding":{"x":{"field":"d","type":"ordinal","bandPosition":0.5},"y":{"field":"v","type":"quantitative","title":null},"size":{"value":1849}}},
{"data":{"name":"px"},"mark":{"type":"rule","strokeWidth":1},
 "encoding":{"x":{"field":"d","type":"ordinal","bandPosition":0.5},
  "y":{"field":"l","type":"quantitative","title":null,"scale":{"domain":[2250,3133],"nice":false,"zero":false},
   "axis":{"orient":"right","title":null,"values":[2280,2320,2360,2400,2440,2480,2520,2560,2600,2640,2680,2720,2760,2800,2840,2880,2920,2960,3000,3040,3080,3120],"tickCount":30,"format":".1f","labelFont":"Lato","labelFontSize":7,"labelColor":"#8a8a8a","tickColor":"#999","tickSize":3,"labelPadding":3,"domain":false,"grid":false,"labelOverlap":false,"labelBound":false}},
  "y2":{"field":"h"},
  "color":{"condition":{"test":"datum.c >= datum.o","value":"#6aa874"},"value":"#ea7f7f"}}},
{"data":{"name":"px"},"mark":{"type":"bar"},
 "encoding":{"y":{"field":"o","type":"quantitative","title":null},"y2":{"field":"c"},
  "color":{"condition":{"test":"datum.c >= datum.o","value":"#2f8a3e"},"value":"#e8232a"}}},
{"data":{"name":"ema"},"mark":{"type":"line","color":"#1e1e1e","strokeWidth":1.1,"interpolate":"monotone"},
 "encoding":{"x":{"field":"d","type":"ordinal","bandPosition":0.5},"y":{"field":"e200","type":"quantitative","title":null}}},
{"data":{"name":"ema"},"mark":{"type":"line","color":"#5a82b4","strokeWidth":1,"interpolate":"monotone"},
 "encoding":{"x":{"field":"d","type":"ordinal","bandPosition":0.5},"y":{"field":"e50","type":"quantitative","title":null}}},
{"data":{"name":"px"},"mark":{"type":"line","color":"#b552d6","strokeWidth":1},
 "encoding":{"x":{"field":"d","type":"ordinal","bandPosition":0.5},"y":{"field":"e21","type":"quantitative","title":null}}},
{"data":{"name":"px"},"mark":{"type":"line","color":"#bb3f3f","strokeWidth":1},
 "encoding":{"x":{"field":"d","type":"ordinal","bandPosition":0.5},"y":{"field":"e8","type":"quantitative","title":null}}},
{"data":{"name":"notes"},"mark":{"type":"text","font":"DejaVu Sans","fontSize":7,"fontWeight":"bold","color":"#333","align":"center","baseline":"middle"},
 "encoding":{"x":{"field":"d","type":"ordinal","bandPosition":0.5},"y":{"field":"v","type":"quantitative","title":null},"text":{"field":"t"}}},
{"data":{"name":"powell"},"mark":{"type":"text","font":"DejaVu Sans","fontSize":7,"fontWeight":"bold","color":"#333","align":"left","baseline":"middle"},
 "encoding":{"x":{"field":"d","type":"ordinal","bandPosition":0.5},"y":{"field":"v","type":"quantitative","title":null},"text":{"field":"t"}}},
{"data":{"name":"para"},"mark":{"type":"text","font":"DejaVu Sans","fontSize":7.8,"fontWeight":"bold","color":"#222","align":"left","baseline":"top","lineBreak":"\n","lineHeight":8},
 "encoding":{"x":{"field":"d","type":"ordinal","bandPosition":0.5},"y":{"field":"v","type":"quantitative","title":null},"text":{"field":"t"}}},
{"data":{"name":"leghead"},"mark":{"type":"text","font":"DejaVu Sans","fontSize":7.3,"align":"left","baseline":"middle","dx":-1,"color":"#333"},
 "encoding":{"x":{"field":"d","type":"ordinal","bandPosition":0.5},"y":{"field":"v","type":"quantitative","title":null},"text":{"field":"t"}}},
{"data":{"name":"legitems"},"mark":{"type":"text","font":"DejaVu Sans","fontSize":7.3,"align":"left","baseline":"top","dx":-1,"color":"#8a8a8a","lineBreak":"\n","lineHeight":8.3},
 "encoding":{"x":{"field":"d","type":"ordinal","bandPosition":0.5},"y":{"field":"v","type":"quantitative","title":null},"text":{"field":"t"}}}
]
}
